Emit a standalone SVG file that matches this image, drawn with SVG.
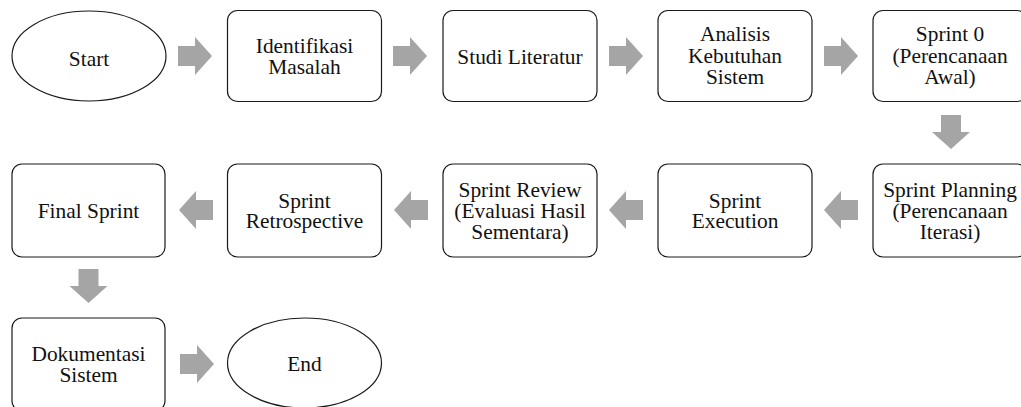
<svg xmlns="http://www.w3.org/2000/svg" width="1021" height="407" viewBox="0 0 1021 407">
<style>
.box{fill:#ffffff;stroke:#1a1a1a;stroke-width:1.2}
.ell{fill:#ffffff;stroke:#1a1a1a;stroke-width:1.2}
.lbl{font-family:"Liberation Serif","Times New Roman",serif;font-size:21.4px;fill:#111111;text-anchor:middle}
.arr{fill:#a5a5a5}
</style>
<defs>
<path id="arrowR" d="M0,-10 H17 V-19 L34,0 L17,19 V10 H0 Z"/>
</defs>
<rect width="1021" height="407" fill="#ffffff"/>
<g id="connectors">
<use href="#arrowR" class="arr" transform="translate(178,56)"/>
<use href="#arrowR" class="arr" transform="translate(393,56)"/>
<use href="#arrowR" class="arr" transform="translate(609,56)"/>
<use href="#arrowR" class="arr" transform="translate(824,56)"/>
<use href="#arrowR" class="arr" transform="translate(951,115) rotate(90)"/>
<use href="#arrowR" class="arr" transform="translate(858,210) rotate(180)"/>
<use href="#arrowR" class="arr" transform="translate(643,210) rotate(180)"/>
<use href="#arrowR" class="arr" transform="translate(428,210) rotate(180)"/>
<use href="#arrowR" class="arr" transform="translate(213,210) rotate(180)"/>
<use href="#arrowR" class="arr" transform="translate(88.5,269) rotate(90)"/>
<use href="#arrowR" class="arr" transform="translate(180,364)"/>
</g>
<g id="start">
<ellipse class="ell" cx="89" cy="56" rx="77" ry="45"/>
<text class="lbl" x="89" y="66">Start</text>
</g>
<g id="identifikasi">
<rect class="box" x="227.5" y="10.5" width="154" height="91" rx="10"/>
<text class="lbl" x="304.5" y="53">Identifikasi</text>
<text class="lbl" x="304.5" y="74">Masalah</text>
</g>
<g id="studi">
<rect class="box" x="443" y="10.5" width="154" height="91" rx="10"/>
<text class="lbl" x="520" y="64">Studi Literatur</text>
</g>
<g id="analisis">
<rect class="box" x="658" y="10.5" width="154" height="91" rx="10"/>
<text class="lbl" x="735" y="41">Analisis</text>
<text class="lbl" x="735" y="62.5">Kebutuhan</text>
<text class="lbl" x="735" y="83.5">Sistem</text>
</g>
<g id="sprint0">
<rect class="box" x="873" y="10.5" width="154" height="91" rx="10"/>
<text class="lbl" x="950" y="41">Sprint 0</text>
<text class="lbl" x="950" y="62.5">(Perencanaan</text>
<text class="lbl" x="950" y="83.5">Awal)</text>
</g>
<g id="planning">
<rect class="box" x="873" y="164" width="154" height="93" rx="10"/>
<text class="lbl" x="950" y="197">Sprint Planning</text>
<text class="lbl" x="950" y="218">(Perencanaan</text>
<text class="lbl" x="950" y="239">Iterasi)</text>
</g>
<g id="execution">
<rect class="box" x="658" y="164" width="154" height="93" rx="10"/>
<text class="lbl" x="735" y="207.7">Sprint</text>
<text class="lbl" x="735" y="228.3">Execution</text>
</g>
<g id="review">
<rect class="box" x="443" y="164" width="154" height="93" rx="10"/>
<text class="lbl" x="520" y="197">Sprint Review</text>
<text class="lbl" x="520" y="218">(Evaluasi Hasil</text>
<text class="lbl" x="520" y="239">Sementara)</text>
</g>
<g id="retrospective">
<rect class="box" x="227.5" y="164" width="154" height="93" rx="10"/>
<text class="lbl" x="304.5" y="207.7">Sprint</text>
<text class="lbl" x="304.5" y="228.3">Retrospective</text>
</g>
<g id="final">
<rect class="box" x="12" y="164" width="153" height="93" rx="10"/>
<text class="lbl" x="88.5" y="218">Final Sprint</text>
</g>
<g id="dokumentasi">
<rect class="box" x="12" y="318" width="153" height="93" rx="10"/>
<text class="lbl" x="88.5" y="361">Dokumentasi</text>
<text class="lbl" x="88.5" y="382">Sistem</text>
</g>
<g id="end">
<ellipse class="ell" cx="304.5" cy="363" rx="77" ry="45"/>
<text class="lbl" x="304.5" y="371">End</text>
</g>
</svg>
